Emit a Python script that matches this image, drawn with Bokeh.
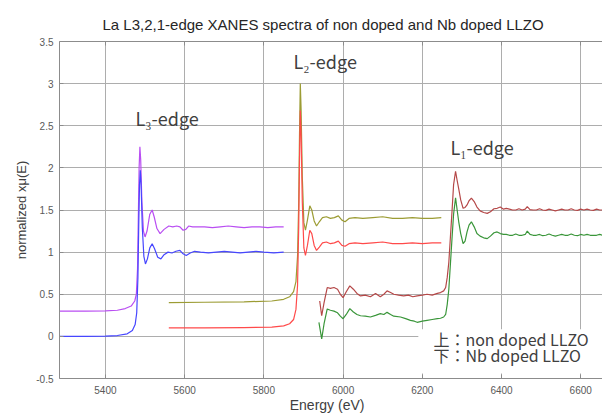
from bokeh.plotting import figure
from bokeh.models import LinearAxis, FixedTicker, Label, BoxAnnotation, Range1d, Grid
from bokeh.embed import file_html
from bokeh.resources import INLINE

title_text = "La L3,2,1-edge XANES spectra of non doped and Nb doped  LLZO"
x_ticks = [5400, 5600, 5800, 6000, 6200, 6400, 6600]
x_tick_labels = ["5400", "5600", "5800", "6000", "6200", "6400", "6600"]
y_ticks = [-0.5, 0, 0.5, 1, 1.5, 2, 2.5, 3, 3.5]
y_tick_labels = ["-0.5", "0", "0.5", "1", "1.5", "2", "2.5", "3", "3.5"]

# L3-edge, non doped (purple)
l3_non_E = [5284, 5350, 5400, 5430, 5450, 5465, 5474, 5478, 5481, 5483, 5485, 5487, 5489, 5492,
            5496, 5500, 5505, 5512, 5518, 5523, 5530, 5538, 5548, 5560, 5570, 5580, 5588, 5596,
            5603, 5610, 5620, 5635, 5650, 5670, 5690, 5710, 5730, 5750, 5770, 5790, 5810, 5830, 5850]
l3_non_y = [0.30, 0.30, 0.302, 0.31, 0.33, 0.36, 0.42, 0.50, 0.80, 1.40, 2.00, 2.25, 2.10, 1.60,
            1.25, 1.18, 1.25, 1.45, 1.50, 1.42, 1.28, 1.22, 1.27, 1.31, 1.30, 1.31, 1.30, 1.26,
            1.27, 1.31, 1.30, 1.30, 1.30, 1.29, 1.30, 1.31, 1.30, 1.29, 1.30, 1.30, 1.29, 1.30, 1.30]

# L3-edge, Nb doped (blue)
l3_nb_E = [5284, 5350, 5400, 5430, 5455, 5468, 5475, 5479, 5482, 5484, 5486, 5488, 5490, 5493,
           5497, 5501, 5506, 5512, 5518, 5524, 5532, 5540, 5548, 5558, 5568, 5578, 5588, 5596,
           5604, 5614, 5625, 5640, 5660, 5680, 5700, 5720, 5740, 5760, 5780, 5800, 5825, 5850]
l3_nb_y = [0.0, 0.0, 0.003, 0.01, 0.03, 0.07, 0.14, 0.28, 0.70, 1.30, 1.80, 1.97, 1.80, 1.30,
           0.95, 0.86, 0.92, 1.05, 1.10, 1.04, 0.94, 0.92, 0.97, 1.00, 0.99, 1.01, 1.02, 0.98,
           0.96, 0.99, 1.01, 1.00, 0.99, 1.00, 1.01, 1.00, 0.99, 1.00, 1.01, 1.00, 0.99, 1.00]

# L2-edge, non doped (olive)
l2_non_E = [5560, 5650, 5750, 5820, 5850, 5865, 5875, 5881, 5885, 5888, 5890, 5892, 5894, 5897,
            5901, 5905, 5910, 5916, 5921, 5927, 5933, 5940, 5948, 5958, 5968, 5978, 5988, 5997,
            6005, 6015, 6030, 6050, 6075, 6100, 6125, 6150, 6175, 6200, 6225, 6248]
l2_non_y = [0.40, 0.405, 0.41, 0.42, 0.44, 0.47, 0.53, 0.65, 0.95, 1.60, 2.40, 3.00, 2.70, 1.90,
            1.35, 1.26, 1.38, 1.55, 1.50, 1.37, 1.31, 1.36, 1.41, 1.42, 1.40, 1.41, 1.43, 1.38,
            1.36, 1.40, 1.41, 1.40, 1.41, 1.42, 1.40, 1.40, 1.41, 1.40, 1.40, 1.41]

# L2-edge, Nb doped (red)
l2_nb_E = [5560, 5650, 5750, 5820, 5850, 5865, 5875, 5881, 5885, 5888, 5890, 5892, 5894, 5897,
           5901, 5905, 5910, 5916, 5921, 5927, 5933, 5940, 5948, 5958, 5968, 5978, 5988, 5997,
           6005, 6015, 6030, 6050, 6075, 6100, 6125, 6150, 6175, 6200, 6225, 6248]
l2_nb_y = [0.10, 0.10, 0.105, 0.11, 0.125, 0.15, 0.20, 0.32, 0.60, 1.30, 2.10, 2.68, 2.40, 1.60,
           1.05, 0.96, 1.08, 1.26, 1.22, 1.08, 1.02, 1.06, 1.11, 1.12, 1.10, 1.11, 1.13, 1.08,
           1.07, 1.10, 1.11, 1.10, 1.11, 1.12, 1.10, 1.10, 1.11, 1.10, 1.11, 1.11]

# L1-edge, non doped (dark red)
l1_non_E = [5941, 5946, 5952, 5960, 5968, 5977, 5986, 5993, 6000, 6008, 6017, 6026, 6035, 6044,
            6056, 6069, 6082, 6094, 6103, 6111, 6120, 6128, 6140, 6153, 6165, 6176, 6187, 6200,
            6212, 6225, 6238, 6246, 6254, 6259, 6263, 6267, 6271, 6275, 6279, 6284, 6288, 6292,
            6297, 6303, 6308, 6313, 6318, 6324, 6331, 6338, 6346, 6355, 6364, 6372, 6381, 6389,
            6397, 6405, 6412, 6420, 6428, 6436, 6444, 6452, 6460, 6465, 6472, 6480, 6488, 6496,
            6504, 6512, 6520, 6528, 6536, 6544, 6552, 6560, 6568, 6576, 6584, 6592, 6600, 6608,
            6616, 6624, 6632, 6640, 6648, 6656]
l1_non_y = [0.42, 0.245, 0.40, 0.58, 0.57, 0.58, 0.56, 0.50, 0.46, 0.53, 0.60, 0.56, 0.51, 0.48,
            0.49, 0.47, 0.51, 0.47, 0.50, 0.54, 0.52, 0.50, 0.49, 0.48, 0.49, 0.47, 0.48, 0.49,
            0.50, 0.49, 0.51, 0.52, 0.54, 0.58, 0.70, 0.88, 1.18, 1.48, 1.80, 1.96, 1.85, 1.75,
            1.62, 1.52, 1.53, 1.56, 1.61, 1.64, 1.60, 1.535, 1.49, 1.47, 1.46, 1.48, 1.515, 1.52,
            1.535, 1.51, 1.52, 1.51, 1.50, 1.50, 1.515, 1.50, 1.51, 1.54, 1.505, 1.50, 1.50, 1.515,
            1.50, 1.495, 1.51, 1.50, 1.49, 1.50, 1.51, 1.50, 1.50, 1.515, 1.50, 1.495, 1.51, 1.50,
            1.51, 1.50, 1.495, 1.51, 1.50, 1.50]

# L1-edge, Nb doped (green)
l1_nb_E = [5939, 5946, 5952, 5960, 5968, 5977, 5986, 5993, 6000, 6008, 6017, 6026, 6035, 6044,
           6056, 6069, 6082, 6094, 6103, 6111, 6120, 6128, 6145, 6158, 6170, 6180, 6187, 6200,
           6212, 6225, 6238, 6246, 6254, 6259, 6263, 6267, 6271, 6275, 6279, 6284, 6288, 6292,
           6297, 6303, 6308, 6313, 6318, 6324, 6331, 6338, 6346, 6355, 6364, 6372, 6381, 6389,
           6397, 6405, 6412, 6420, 6428, 6436, 6444, 6452, 6460, 6465, 6472, 6480, 6488, 6496,
           6504, 6512, 6520, 6528, 6536, 6544, 6552, 6560, 6568, 6576, 6584, 6592, 6600, 6608,
           6616, 6624, 6632, 6640, 6648, 6656]
l1_nb_y = [0.167, -0.03, 0.15, 0.325, 0.31, 0.30, 0.28, 0.24, 0.21, 0.26, 0.33, 0.29, 0.26, 0.245,
           0.24, 0.23, 0.25, 0.27, 0.26, 0.285, 0.26, 0.24, 0.23, 0.21, 0.19, 0.18, 0.167, 0.18,
           0.19, 0.20, 0.21, 0.215, 0.23, 0.26, 0.38, 0.56, 0.86, 1.16, 1.45, 1.645, 1.50, 1.36,
           1.22, 1.10, 1.13, 1.24, 1.32, 1.36, 1.30, 1.22, 1.19, 1.17, 1.16, 1.19, 1.23, 1.24,
           1.22, 1.21, 1.21, 1.20, 1.20, 1.215, 1.20, 1.20, 1.21, 1.25, 1.21, 1.20, 1.20, 1.21,
           1.195, 1.20, 1.215, 1.20, 1.19, 1.20, 1.21, 1.20, 1.20, 1.215, 1.20, 1.195, 1.21, 1.20,
           1.21, 1.20, 1.20, 1.20, 1.21, 1.20]

FONT = "Liberation Sans"
JFONT = "Noto Sans CJK JP"
AXIS_GRAY = "#8c8c8c"
GRID_GRAY = "#adadad"

p = figure(width=602, height=415, x_range=Range1d(5284, 6655), y_range=Range1d(-0.5, 3.5),
           output_backend="svg", toolbar_location=None,
           min_border_left=59, min_border_right=0, min_border_top=41, min_border_bottom=5)
p.background_fill_color = None
p.border_fill_color = "white"
p.outline_line_color = None

p.title.text = title_text
p.title.text_font = FONT
p.title.text_font_size = "15px"
p.title.text_font_style = "normal"
p.title.text_color = "#262626"
p.title.align = "left"
p.title.offset = 43
p.title.standoff = 18

for ax in (p.xaxis[0], p.yaxis[0]):
    ax.axis_line_color = AXIS_GRAY
    ax.major_tick_line_color = AXIS_GRAY
    ax.major_tick_in = 4
    ax.major_tick_out = 0
    ax.minor_tick_line_color = None
    ax.major_label_text_font = FONT
    ax.major_label_text_font_size = "10px"
    ax.major_label_text_color = "#595959"
    ax.axis_label_text_font = FONT
    ax.axis_label_text_font_style = "normal"
    ax.axis_label_text_color = "#404040"

p.xaxis[0].ticker = FixedTicker(ticks=x_ticks)
p.xaxis[0].major_label_overrides = {t: s for t, s in zip(x_ticks, x_tick_labels)}
p.xaxis[0].major_label_standoff = 7
p.xaxis[0].axis_label = "Energy   (eV)"
p.xaxis[0].axis_label_text_font_size = "14px"
p.xaxis[0].axis_label_standoff = 0

p.yaxis[0].ticker = FixedTicker(ticks=y_ticks)
p.yaxis[0].major_label_overrides = {t: s for t, s in zip(y_ticks, y_tick_labels)}
p.yaxis[0].major_label_standoff = 6
p.yaxis[0].axis_label = "normalized xμ(E)"
p.yaxis[0].axis_label_text_font_size = "13px"
p.yaxis[0].axis_label_standoff = 4

top = LinearAxis(ticker=FixedTicker(ticks=x_ticks),
                 major_label_overrides={t: "" for t in x_ticks},
                 major_label_text_font_size="10px",
                 major_tick_in=4, major_tick_out=0, minor_tick_line_color=None,
                 axis_line_color=AXIS_GRAY, major_tick_line_color=AXIS_GRAY,
                 major_label_standoff=0)
p.add_layout(top, "above")

for g in list(p.xgrid) + list(p.ygrid):
    g.visible = False
p.add_layout(Grid(dimension=0, ticker=FixedTicker(ticks=x_ticks),
                  grid_line_color=GRID_GRAY, grid_line_width=1), "center")
p.add_layout(Grid(dimension=1, ticker=FixedTicker(ticks=y_ticks),
                  grid_line_color=GRID_GRAY, grid_line_width=1), "center")

lw = 1.2
p.line(l3_non_E, l3_non_y, line_color="#b94ef2", line_width=lw)
p.line(l3_nb_E, l3_nb_y, line_color="#4646ff", line_width=lw)
p.line(l2_non_E, l2_non_y, line_color="#9c9c34", line_width=lw)
p.line(l2_nb_E, l2_nb_y, line_color="#ff4a4a", line_width=lw)
p.line(l1_non_E, l1_non_y, line_color="#b54848", line_width=lw)
p.line(l1_nb_E, l1_nb_y, line_color="#3a963a", line_width=lw)

p.add_layout(BoxAnnotation(left=6190, right=6655, bottom=-0.44, top=0.085,
                           fill_color="white", fill_alpha=1.0, line_color=None))

def lab(x, y, text, size, font=JFONT):
    p.add_layout(Label(x=x, y=y, text=text, text_font=font, text_font_size=size,
                       text_color="#404040", text_align="left", text_baseline="middle"))

lab(5476, 2.59, "L₃-edge", "18px")
lab(5875, 3.27, "L₂-edge", "18px")
lab(6271, 2.25, "L₁-edge", "18px")
lab(6228, -0.03, "上：non doped LLZO", "16px")
lab(6228, -0.22, "下：Nb doped LLZO", "16px")

open("out.html", "w").write(file_html(p, INLINE))
